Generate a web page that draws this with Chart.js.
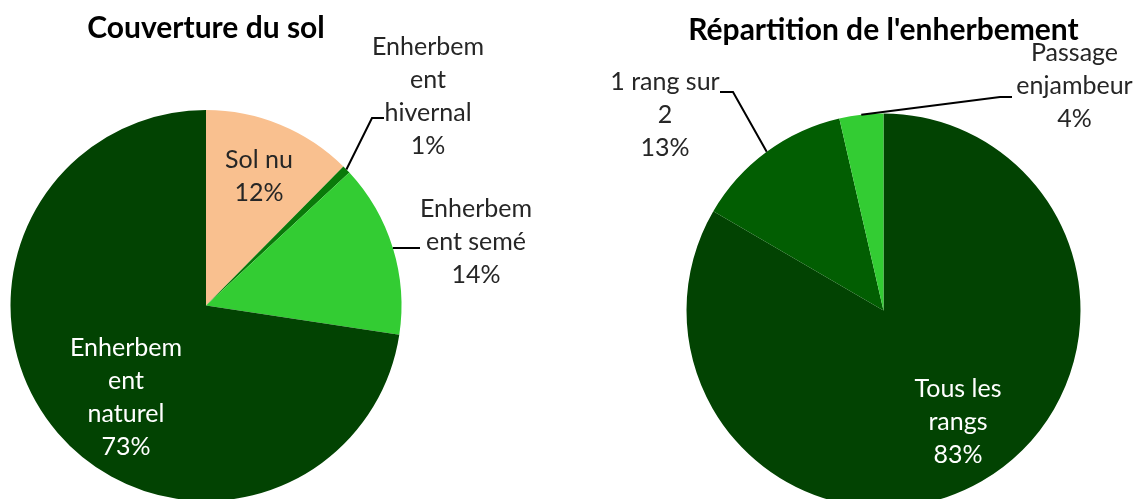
<!DOCTYPE html>
<html><head><meta charset="utf-8">
<script src="https://cdn.jsdelivr.net/npm/chart.js@4"></script>
<style>
html,body{margin:0;padding:0;background:#fff;overflow:hidden;width:1134px;height:499px}
.wrap{position:absolute;top:0;width:567px;height:620px}
canvas{display:block}
</style></head><body>
<div class="wrap" style="left:0"><canvas id="c1" width="567" height="620"></canvas></div>
<div class="wrap" style="left:567px"><canvas id="c2" width="567" height="620"></canvas></div>
<script>
// ---- data ----
const soilTitle = 'Couverture du sol';
const soilCategories = ['Sol nu', 'Enherbement hivernal', 'Enherbement semé', 'Enherbement naturel'];
const soilValues = [12.4, 0.7, 14.3, 72.6];
const soilLabelLines = [['Sol nu'], ['Enherbem', 'ent', 'hivernal'], ['Enherbem', 'ent semé'], ['Enherbem', 'ent', 'naturel']];

const grassTitle = "Répartition de l'enherbement";
const grassCategories = ['Tous les rangs', '1 rang sur 2', 'Passage enjambeur'];
const grassValues = [83.4, 13.0, 3.6];
const grassLabelLines = [['Tous les', 'rangs'], ['1 rang sur', '2'], ['Passage', 'enjambeur']];

// ---- styles ----
const soilColors = ['#F9C08F', '#0A7A0A', '#33CC33', '#024302'];
const grassColors = ['#024302', '#025E02', '#33CC33'];
const DARK = '#262626', LIGHT = '#ffffff';

const soilSpecs = [
  {dx: 53, dy: -129.5, color: DARK},
  {dx: 222, dy: -209, color: DARK, leader: [[166, -187.5], [178, -187.5]]},
  {dx: 270, dy: -63.5, color: DARK, leader: [[214, -57.5]]},
  {dx: -80, dy: 91.5, color: LIGHT}
];
const grassSpecs = [
  {dx: 74.5, dy: 111, color: LIGHT},
  {dx: -218.5, dy: -196, color: DARK, leader: [[-150.5, -218.5], [-163.5, -218.5]]},
  {dx: 191, dy: -224.5, color: DARK, leader: [[116.5, -213.5], [128.5, -213.5]]}
];

const sliceLabels = {
  id: 'sliceLabels',
  afterDatasetsDraw(chart, args, opts) {
    const ctx = chart.ctx;
    const meta = chart.getDatasetMeta(0);
    const data = chart.data.datasets[0].data;
    const total = data.reduce((a, b) => a + b, 0);
    meta.data.forEach((arc, i) => {
      const p = arc.getProps(['x', 'y', 'startAngle', 'endAngle', 'outerRadius'], true);
      const mid = (p.startAngle + p.endAngle) / 2;
      const spec = opts.specs[i];
      if (spec.leader) {
        ctx.save();
        ctx.strokeStyle = '#000';
        ctx.lineWidth = 2;
        ctx.beginPath();
        ctx.moveTo(p.x + Math.cos(mid) * p.outerRadius, p.y + Math.sin(mid) * p.outerRadius);
        spec.leader.forEach(([dx, dy]) => ctx.lineTo(p.x + dx, p.y + dy));
        ctx.stroke();
        ctx.restore();
      }
      const lines = opts.lines[i].concat([Math.round(data[i] / total * 100) + '%']);
      const lh = 33;
      ctx.save();
      ctx.font = '25px Lato';
      ctx.fillStyle = spec.color;
      ctx.textAlign = 'center';
      ctx.textBaseline = 'middle';
      const cx = p.x + spec.dx, cy = p.y + spec.dy;
      lines.forEach((t, k) => ctx.fillText(t, cx, cy + (k - (lines.length - 1) / 2) * lh));
      ctx.restore();
    });
  }
};

function makePie(id, title, cats, vals, colors, lines, specs, pad, tpad) {
  return new Chart(document.getElementById(id), {
    type: 'pie',
    data: {labels: cats, datasets: [{data: vals, backgroundColor: colors, borderWidth: 0, hoverOffset: 0}]},
    options: {
      responsive: false,
      animation: false,
      devicePixelRatio: 1,
      layout: {padding: pad},
      plugins: {
        legend: {display: false},
        tooltip: {enabled: false},
        title: {display: true, text: title, color: '#000',
          font: {family: 'Lato', size: 30, weight: 'bold', lineHeight: 1.2},
          padding: tpad},
        sliceLabels: {lines: lines, specs: specs}
      }
    },
    plugins: [sliceLabels]
  });
}

makePie('c1', soilTitle, soilCategories, soilValues, soilColors, soilLabelLines, soilSpecs,
  {left: 10.5, right: 165.5, top: 0, bottom: 119}, {top: 10, bottom: 64});
makePie('c2', grassTitle, grassCategories, grassValues, grassColors, grassLabelLines, grassSpecs,
  {left: 119.5, right: 53.5, top: 0, bottom: 112.5}, {top: 12, bottom: 65.5});
</script>
</body></html>
